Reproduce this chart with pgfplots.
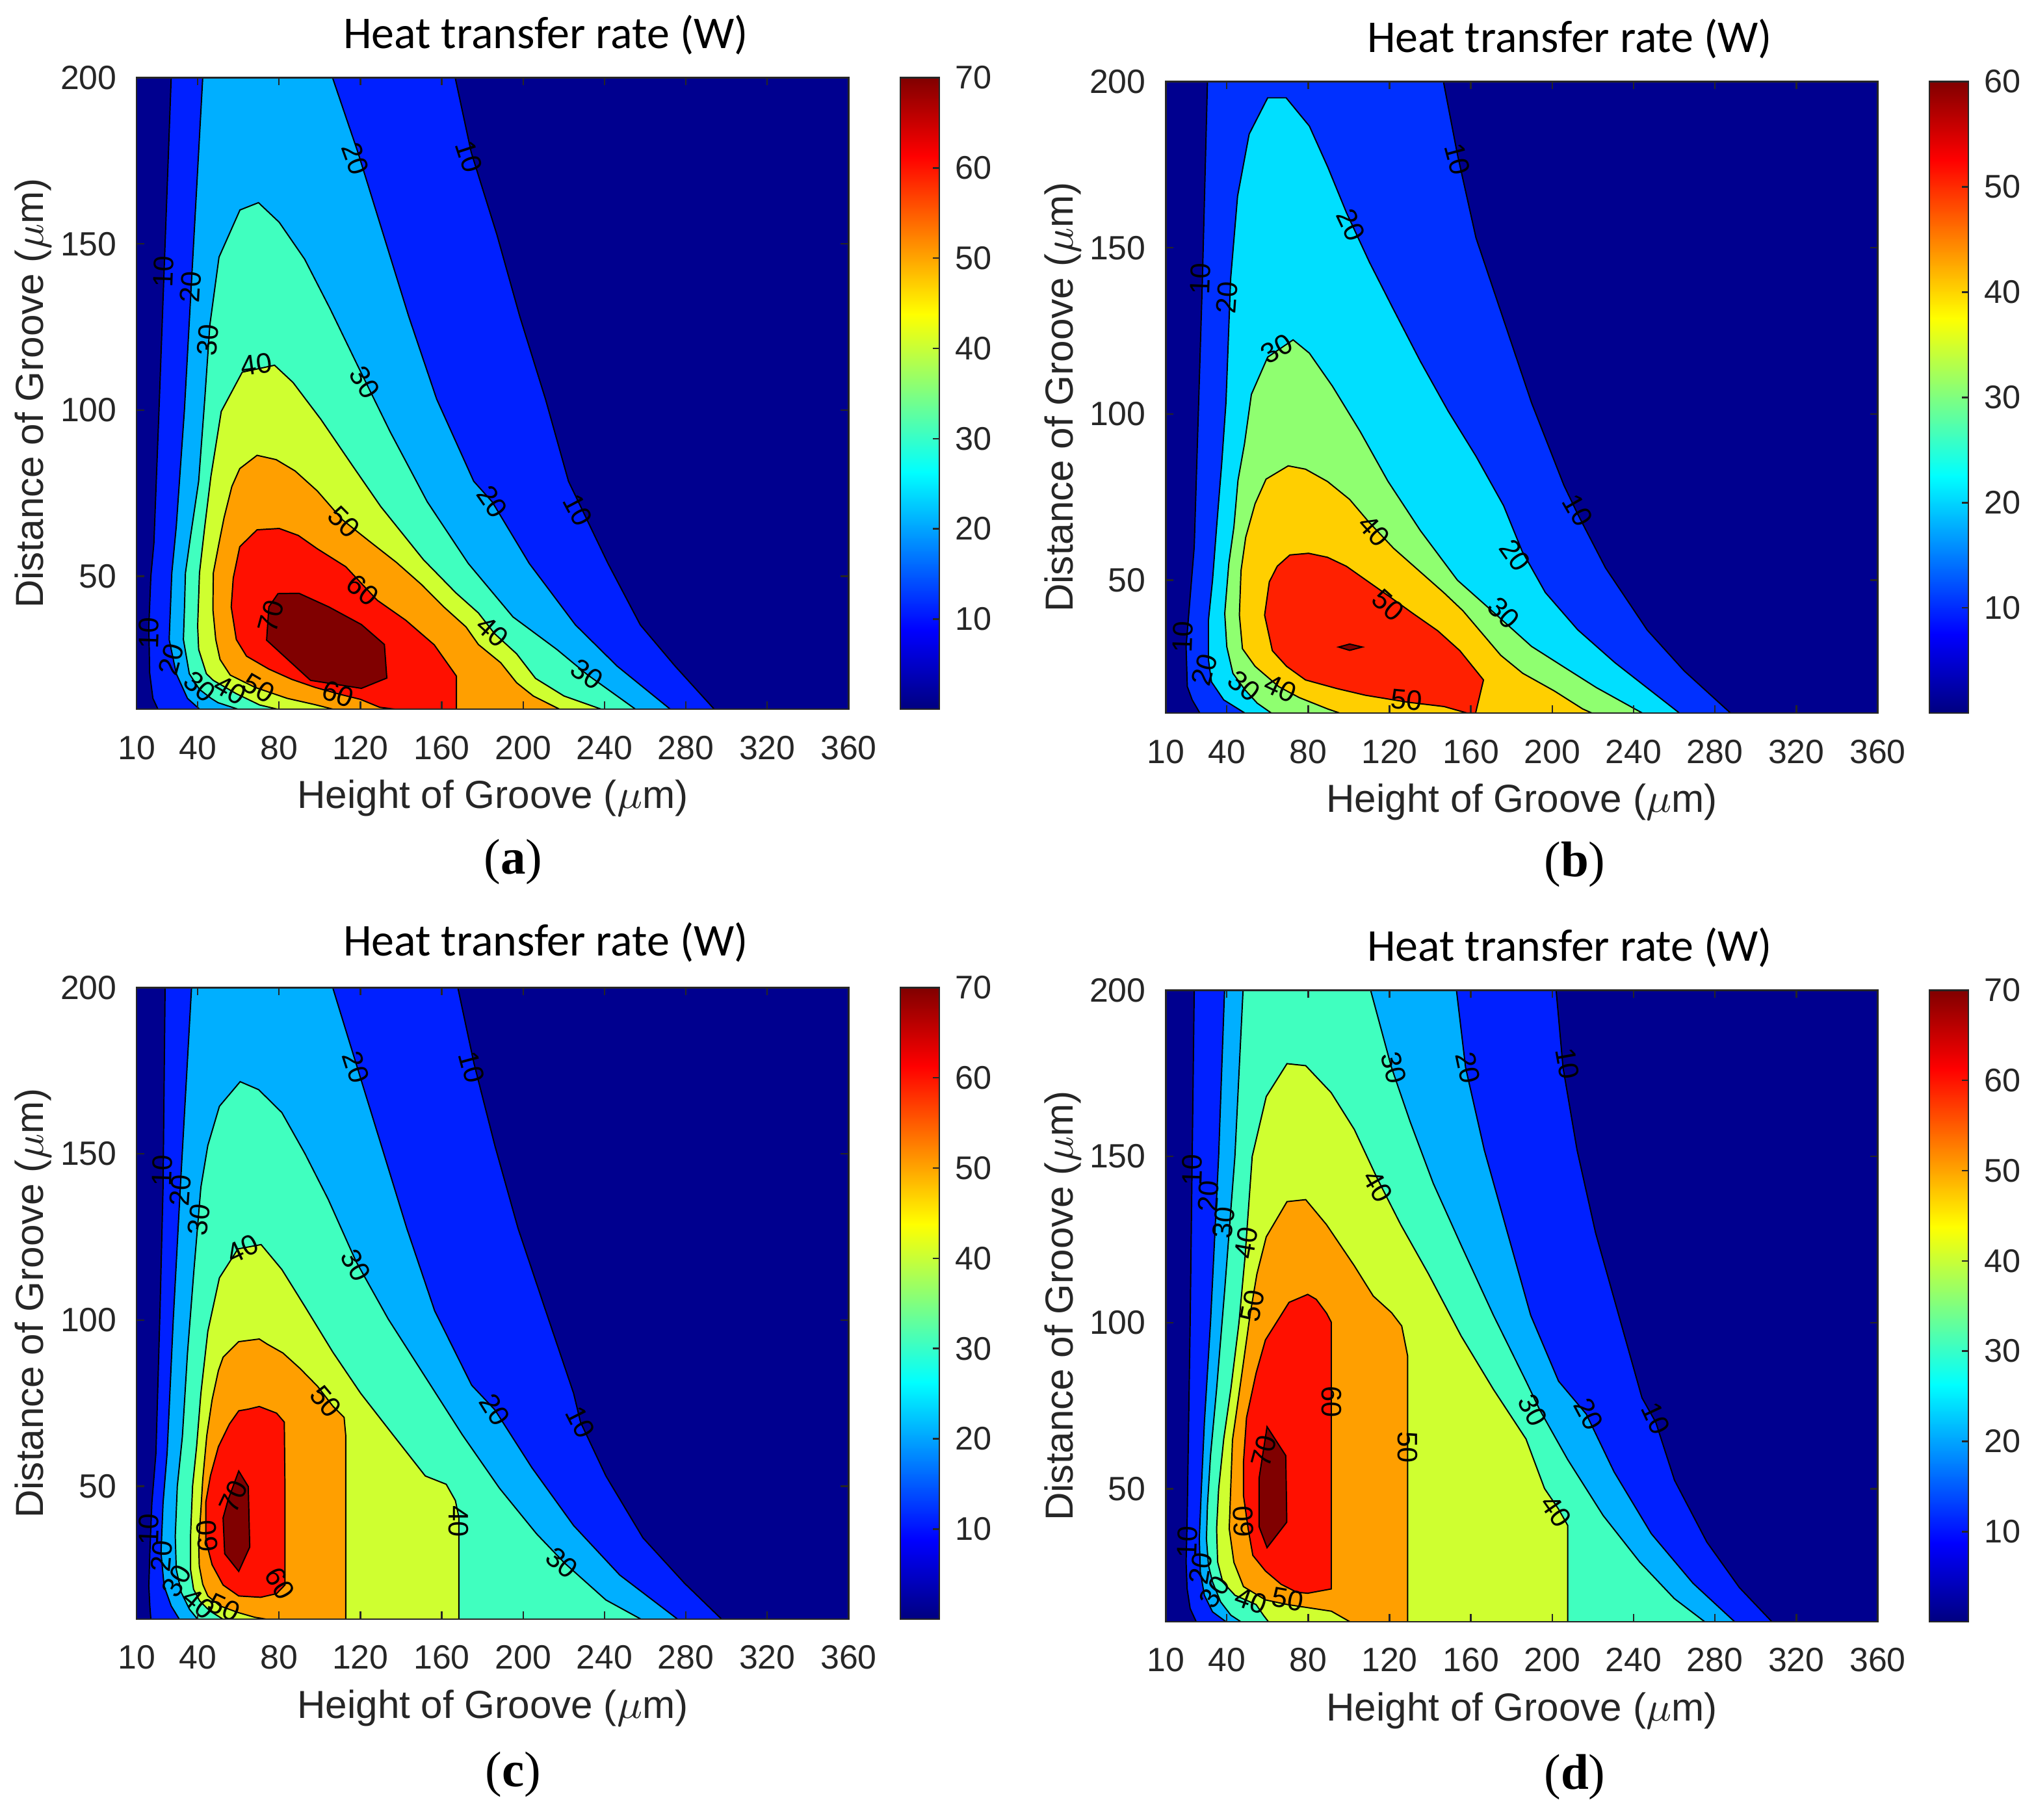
\documentclass[border=0pt]{standalone}
\usepackage{pgfplots}
\pgfplotsset{compat=1.18}
\usepackage{fontspec}
\setmainfont{Liberation Sans}
\newfontfamily\titlefont{Carlito}
\newfontfamily\capfont{Liberation Serif}

\definecolor{axgray}{RGB}{38,38,38}
% band colours, colour axis 0..70 (jet, 64 steps)
\definecolor{s0}{RGB}{0,0,143}
\definecolor{s10}{RGB}{0,32,255}
\definecolor{s20}{RGB}{0,175,255}
\definecolor{s30}{RGB}{64,255,191}
\definecolor{s40}{RGB}{207,255,48}
\definecolor{s50}{RGB}{255,159,0}
\definecolor{s60}{RGB}{255,16,0}
\definecolor{s70}{RGB}{128,0,0}
% band colours, colour axis 0..60
\definecolor{b10}{RGB}{0,48,255}
\definecolor{b20}{RGB}{0,223,255}
\definecolor{b30}{RGB}{143,255,112}
\definecolor{b40}{RGB}{255,207,0}
\definecolor{b50}{RGB}{255,32,0}

\tikzset{
  cl/.style={draw=black, line width=0.28pt},
  lbl/.style={font=\fontsize{6.2}{7}\selectfont, inner sep=0pt},
}
\pgfplotsset{
  panel/.style={
    scale only axis, width=5.5cm, height=4.88cm,
    xmin=10, xmax=360, ymin=10, ymax=200,
    xtick={10,40,80,120,160,200,240,280,320,360},
    ytick={50,100,150,200},
    tick align=inside, major tick length=0.06cm,
    axis line style={axgray, line width=0.35pt},
    every tick/.style={axgray, line width=0.35pt},
    ticklabel style={font=\fontsize{7.4}{8}\selectfont, text=axgray},
    xticklabel style={yshift=-0.08cm},
    yticklabel style={xshift=-0.03cm},
    /pgf/number format/assume math mode=true,
    axis on top,
    axis background/.style={fill=s0},
    xlabel={Height of Groove ($\mu$m)},
    ylabel={Distance of Groove ($\mu$m)},
    label style={font=\fontsize{8.6}{10}\selectfont, text=axgray},
    x label style={at={(axis description cs:0.5,-0.141)}, anchor=center},
    y label style={at={(axis description cs:-0.145,0.5)}, anchor=center},
  },
  cbar/.style={
    scale only axis, width=0.30cm, height=4.88cm,
    xmin=0, xmax=1, ymin=0, ymax=#1,
    point meta min=0, point meta max=#1,
    xtick=\empty, ytick={10,20,...,#1},
    ytick pos=right, yticklabel pos=right,
    tick align=inside, major tick length=0.05cm,
    axis line style={axgray, line width=0.35pt},
    every tick/.style={axgray, line width=0.35pt},
    ticklabel style={font=\fontsize{7.2}{8}\selectfont, text=axgray},
    /pgf/number format/assume math mode=true,
    axis on top, colormap/jet,
  },
}

\begin{document}
\begin{tikzpicture}
\path (0,0) rectangle (15.68cm,-14.03cm);

% ---------------- (a) ----------------
\begin{axis}[panel, at={(1.05cm,-0.57cm)}, anchor=north west]
\addplot[cl, fill=s10] coordinates {(27,200) (24,150) (21,100) (18.5,60) (17,50) (16,35) (16.4,21) (18,13.3) (20.5,10)
  (294,10) (274.7,23) (257.6,35.4) (241.7,53.9) (222.3,78.6) (211,103.3) (198.4,128.1) (187.1,152.8) (174.5,177.5) (166.6,200)} -- cycle;
\addplot[cl, fill=s20] coordinates {(42.5,200) (38,150) (33.5,100) (29.5,65) (27.3,51) (26,31) (29.5,20.7) (35,13.3) (41,10)
  (272.4,10) (246.2,23) (225.7,35.4) (203,53.9) (184.8,72.4) (175.7,78.6) (157.5,103.3) (143.8,128.1) (131.3,152.8) (118.8,177.5) (106.3,200)} -- cycle;
\addplot[cl, fill=s30] coordinates {(60,10) (50,12) (46.6,13.3) (40.9,16) (35.9,20.7) (33,31) (33.5,40) (34,51) (36.5,62) (40.5,78.6) (43.5,103.3) (46,125.6) (50.5,146) (60.8,160.2) (69.9,162.4)
  (80.1,156.5) (92.6,145.4) (105.1,130.5) (118.8,113.2) (134.7,93.4) (152.9,72.4) (173,53.9) (195,37.8) (216.6,28) (231.4,20.5) (255.3,10)} -- cycle;
\addplot[cl, fill=s40] coordinates {(79.5,10) (70.5,11.3) (59,14.7) (47.7,18.7) (44.3,20.7) (40.5,28) (40,35) (40.9,51) (43.5,65) (46.5,80) (51.6,99.6) (61.9,111.4) (77.8,113.5)
  (86.9,108.3) (100.6,97.2) (116,83.4) (130,71) (151,55) (167,45) (178,39) (185.9,32.8) (196.8,26.7) (206.1,19.3) (220.1,14) (238.6,10)} -- cycle;
\addplot[cl, fill=s50] coordinates {(106.8,10) (97.7,11.4) (84,13.3) (68.2,16.6) (56,20.3) (51,25) (48.9,31) (47.5,40) (47.7,51) (50.5,60) (53,67.7) (56.8,77) (60.7,82.4) (69.2,86.4)
  (78.6,85.1) (87.9,81.7) (98.8,75.7) (111.2,67) (123.7,60.9) (137.7,54.2) (150.1,47.5) (161,40.8) (171.9,34.8) (178,29.5) (189,24) (196.8,18) (205,14) (218,10)} -- cycle;
\addplot[cl, fill=s60] coordinates {(137.5,10) (167.2,10) (167.2,20) (156.3,29.4) (142.3,36.8) (128.3,42.8) (112.8,52.9) (98.8,58.3) (89.5,62.3) (80.1,64.4) (69.2,64)
  (60.7,58.9) (57.5,49.5) (56.5,40.8) (59,31) (64,26) (75,22.1) (86.3,19) (97.7,16.6) (110,14.5) (120,13) (129.5,10.6)} -- cycle;
\addplot[cl, fill=s70] coordinates {(79.5,44.8) (89.8,44.9) (104.5,40.8) (120.5,35.5) (131.8,29.5) (133,19.4) (120.5,16.3) (95.5,18.7) (73.9,30.8) (75,40.8)} -- cycle;
\node[lbl, rotate=-72] at (axis cs:173.4,176.3) {10};
\node[lbl, rotate=-70] at (axis cs:117.6,175.6) {20};
\node[lbl, rotate=88] at (axis cs:23.2,141.7) {10};
\node[lbl, rotate=87] at (axis cs:36.5,137) {20};
\node[lbl, rotate=85] at (axis cs:45,121) {30};
\node[lbl, rotate=8] at (axis cs:69,113.8) {40};
\node[lbl, rotate=-58] at (axis cs:122.2,108.3) {30};
\node[lbl, rotate=-55] at (axis cs:184.8,72.4) {20};
\node[lbl, rotate=-62] at (axis cs:226.9,70) {10};
\node[lbl, rotate=-45] at (axis cs:112,66.3) {50};
\node[lbl, rotate=-40] at (axis cs:121.1,45.9) {60};
\node[lbl, rotate=75] at (axis cs:76,38) {70};
\node[lbl, rotate=-42] at (axis cs:184.8,33.5) {40};
\node[lbl, rotate=-35] at (axis cs:231.4,20.5) {30};
\node[lbl, rotate=-20] at (axis cs:109,14.6) {60};
\node[lbl, rotate=-30] at (axis cs:70,16.3) {50};
\node[lbl, rotate=-30] at (axis cs:56,15.8) {40};
\node[lbl, rotate=-40] at (axis cs:41,16.8) {30};
\node[lbl, rotate=88] at (axis cs:16,33) {10};
\node[lbl, rotate=75] at (axis cs:27,25) {20};
\end{axis}
\begin{axis}[cbar=70, at={(6.95cm,-0.57cm)}, anchor=north west]
\addplot[surf, shader=interp, point meta=y, mesh/cols=2] coordinates {(0,0) (1,0) (0,70) (1,70)};
\end{axis}
\node[font=\titlefont\fontsize{10}{12}\selectfont] at (4.21cm,-0.24cm) {Heat transfer rate (W)};
\node[font=\capfont\fontsize{11}{13}\selectfont] at (3.96cm,-6.63cm) {(\textbf{a})};

% ---------------- (b) ----------------
\begin{axis}[panel, at={(9.00cm,-0.60cm)}, anchor=north west]
\addplot[cl, fill=b10] coordinates {(30.5,200) (28,140) (26,100) (24,60) (22,45) (20,30) (20.6,18) (23,14) (26.8,10)
  (287.7,10) (264.9,22.7) (246.7,35) (226.2,53.7) (212.5,69.9) (205.7,78.6) (189.8,103.4) (176.1,128.3) (162.5,153) (153.4,178) (146.5,200)} -- cycle;
\addplot[cl, fill=b20] coordinates {(49,10) (38.5,14) (32.5,19.4) (31,26) (31,38) (33,50) (35,66) (37.5,85) (39.6,103.4) (41.9,140.7) (45.3,165.5) (51,184.2) (60.1,195.1)
  (69.2,195.1) (80.6,186.6) (89.7,174.2) (98.8,160.6) (110.1,145.7) (121.5,132) (135.2,115.8) (148.8,100.9) (162.5,87.3) (176.1,72.4) (185.2,58.7) (196.6,46.3) (212.5,35.1) (230.8,25.2) (249,16.5) (262.6,10)} -- cycle;
\addplot[cl, fill=b30] coordinates {(62,10) (55,13) (49,17) (43,22) (40,30) (39,40) (41,55) (43.5,66) (45.5,80) (48.7,91) (52.1,105.9) (60.1,117.1) (72.6,122.3)
  (80.6,118.3) (91.9,108.4) (105.6,94.7) (119.2,79.8) (135.2,64.9) (153.4,50) (171.6,40.1) (189.8,30.1) (205.7,23.9) (221.7,17.7) (244.4,10)} -- cycle;
\addplot[cl, fill=b40] coordinates {(95.7,10) (89.5,11.3) (75.6,14.7) (65.5,18) (61.7,20) (53.9,24.1) (47.7,29.4) (46.2,39.5) (47,52.9) (49.3,62.9) (53.9,73) (59.3,80.4) (70.2,84.4)
  (78.7,83.4) (89.5,79.7) (100.4,74.3) (109.7,67.6) (122,59.6) (134.4,52.9) (146.8,46.2) (156.1,40.8) (165.4,34.1) (174.7,27.4) (185.5,22) (201,16.7) (214.9,11.3) (219.6,10)} -- cycle;
\addplot[cl, fill=b50] coordinates {(71,57.6) (64.8,54.2) (60.9,49.5) (58.6,39.5) (62.4,28.8) (69.4,24.1) (78.7,20) (94.2,17.4) (108.1,15.4) (129,13.3) (146.8,12) (158.4,10)
  (162.3,10) (166.2,20) (154.6,28.8) (143.7,34.8) (131.3,40.1) (122,44.2) (109.7,49.5) (98.8,54.2) (89.5,56.9) (80.2,58.1)} -- cycle;
\addplot[cl, fill=s70] coordinates {(95,29.9) (100.4,30.8) (106.6,29.9) (100.4,28.9)} -- cycle;
\node[lbl, rotate=-75] at (axis cs:153.4,176.7) {10};
\node[lbl, rotate=-65] at (axis cs:101,156.8) {20};
\node[lbl, rotate=88] at (axis cs:27.1,140.7) {10};
\node[lbl, rotate=86] at (axis cs:40,135) {20};
\node[lbl, rotate=30] at (axis cs:64.6,119.6) {30};
\node[lbl, rotate=-48] at (axis cs:112.4,64.9) {40};
\node[lbl, rotate=-42] at (axis cs:119.2,42.5) {50};
\node[lbl, rotate=-60] at (axis cs:212.5,71.1) {10};
\node[lbl, rotate=-55] at (axis cs:181.8,57.5) {20};
\node[lbl, rotate=-45] at (axis cs:176.1,40.1) {30};
\node[lbl, rotate=-40] at (axis cs:48.5,18.2) {30};
\node[lbl, rotate=-25] at (axis cs:66.5,17.5) {40};
\node[lbl, rotate=-5] at (axis cs:128.3,14) {50};
\node[lbl, rotate=88] at (axis cs:18.5,33) {10};
\node[lbl, rotate=75] at (axis cs:29,23) {20};
\end{axis}
\begin{axis}[cbar=60, at={(14.90cm,-0.60cm)}, anchor=north west]
\addplot[surf, shader=interp, point meta=y, mesh/cols=2] coordinates {(0,0) (1,0) (0,60) (1,60)};
\end{axis}
\node[font=\titlefont\fontsize{10}{12}\selectfont] at (12.12cm,-0.27cm) {Heat transfer rate (W)};
\node[font=\capfont\fontsize{11}{13}\selectfont] at (12.16cm,-6.65cm) {(\textbf{b})};

% ---------------- (c) ----------------
\begin{axis}[panel, at={(1.05cm,-7.60cm)}, anchor=north west]
\addplot[cl, fill=s10] coordinates {(24,200) (23,140) (21.5,103) (19.5,60) (17.5,45) (16.5,30) (16,20) (16.5,14) (17,10)
  (297.6,10) (279.4,20.8) (258.9,34.5) (240.7,53.1) (228.2,69.3) (224.8,78) (211.1,102.8) (197.5,127.6) (186.1,152.5) (175.8,177.3) (167.9,200)} -- cycle;
\addplot[cl, fill=s20] coordinates {(37,200) (31.5,140) (28,100) (25,60) (23,45) (22,30) (23.5,20) (27,14) (31,10)
  (276,10) (247.5,23.3) (224.8,38.2) (204.3,55.6) (186.1,73) (174.7,80.4) (156.5,102.8) (142.8,127.6) (130.3,152.5) (117.8,177.3) (106.4,200)} -- cycle;
\addplot[cl, fill=s30] coordinates {(40,10) (36,13) (32,18) (29.5,25) (29,35) (30,50) (32.5,65) (35,90) (38.2,115.2) (41.6,140) (45,152.5) (50.7,164.3) (60.9,171.7)
  (70,169.3) (81.4,162.4) (92.8,150) (104.2,136.3) (117.8,117.7) (133.7,100.3) (151.9,82.9) (170.1,65.5) (188.4,49.4) (206.6,35.7) (220.2,27) (240.7,15.8) (258,10)} -- cycle;
\addplot[cl, fill=s40] coordinates {(52.5,10) (46,12.5) (41,15.5) (38,19) (36.5,25) (36.5,35) (37.5,50) (39.5,62) (41.6,78) (45,96.6) (50.7,112.7) (59.8,121.4) (71.2,122.7)
  (81.4,115.2) (92.8,104) (106.4,90.4) (120.1,78) (136,65.5) (151.9,53.1) (162.2,50.6) (166.7,45.7) (168.4,40.7) (168.4,10)} -- cycle;
\addplot[cl, fill=s50] coordinates {(74,10) (68,10.6) (60,12) (51,14) (45,17) (42.5,20.5) (40.8,26) (40.5,33) (41.5,42) (42.5,52) (44.5,65.3) (47.1,76) (50.2,84.8) (52.5,88.8) (60.2,93.5)
  (70.3,94.3) (74.1,92.8) (81.9,90.1) (90.4,85.4) (98.9,80.1) (106.6,74) (112,70.7) (112.8,65.3) (112.8,10)} -- cycle;
\addplot[cl, fill=s60] coordinates {(64.9,73.2) (70.3,74) (78.8,72) (82.6,69.3) (82.9,51.9) (82.9,20.3) (78.8,17.7) (71,16.6) (60.2,17) (52.5,20.3) (47.1,26.4) (44,33.8)
  (44,45.2) (46.3,53.2) (50.2,61.9) (55.6,68.7) (60.2,72.7)} -- cycle;
\addplot[cl, fill=s70] coordinates {(60.2,54.6) (64.9,49.9) (65.6,31.7) (60.2,24.4) (53.3,29.7) (52.5,40.5) (55,46)} -- cycle;
\node[lbl, rotate=-72] at (axis cs:117.8,176.1) {20};
\node[lbl, rotate=-75] at (axis cs:174.7,176.1) {10};
\node[lbl, rotate=88] at (axis cs:22.6,145) {10};
\node[lbl, rotate=86] at (axis cs:31.4,139) {20};
\node[lbl, rotate=82] at (axis cs:40.5,130.1) {30};
\node[lbl, rotate=25] at (axis cs:62,121.4) {40};
\node[lbl, rotate=-62] at (axis cs:117.8,116.5) {30};
\node[lbl, rotate=-50] at (axis cs:103,75.5) {50};
\node[lbl, rotate=-58] at (axis cs:186.1,73) {20};
\node[lbl, rotate=-63] at (axis cs:228.2,69.3) {10};
\node[lbl, rotate=65] at (axis cs:57.5,46.9) {70};
\node[lbl, rotate=-90] at (axis cs:168.4,39.4) {40};
\node[lbl, rotate=-40] at (axis cs:219.1,27) {30};
\node[lbl, rotate=-60] at (axis cs:80.3,20.8) {60};
\node[lbl, rotate=95] at (axis cs:44.5,35) {60};
\node[lbl, rotate=-25] at (axis cs:53,13.6) {50};
\node[lbl, rotate=-40] at (axis cs:40.5,14.8) {40};
\node[lbl, rotate=60] at (axis cs:29.5,21.5) {30};
\node[lbl, rotate=85] at (axis cs:22.2,29) {20};
\node[lbl, rotate=88] at (axis cs:16,37) {10};
\end{axis}
\begin{axis}[cbar=70, at={(6.95cm,-7.60cm)}, anchor=north west]
\addplot[surf, shader=interp, point meta=y, mesh/cols=2] coordinates {(0,0) (1,0) (0,70) (1,70)};
\end{axis}
\node[font=\titlefont\fontsize{10}{12}\selectfont] at (4.21cm,-7.25cm) {Heat transfer rate (W)};
\node[font=\capfont\fontsize{11}{13}\selectfont] at (3.96cm,-13.68cm) {(\textbf{c})};

% ---------------- (d) ----------------
\begin{axis}[panel, at={(9.00cm,-7.62cm)}, anchor=north west]
\addplot[cl, fill=s10] coordinates {(24,200) (23,150) (22,100) (21,60) (20.5,40) (20,28) (20.5,20) (22,14) (25,10)
  (308,10) (292,20.3) (276,34) (260.1,52.6) (250.9,70) (244.1,77.4) (232.7,102.2) (221.3,127) (212.2,151.9) (205.3,176.7) (201.9,200)} -- cycle;
\addplot[cl, fill=s20] coordinates {(38.9,200) (36,150) (32,100) (29,70) (27.5,50) (26.5,35) (27,25) (29,18) (33,13) (39.7,10)
  (289.7,10) (269.2,21.6) (248.7,36.5) (230.4,55.1) (216.7,72.5) (203.1,82.4) (189.4,102.2) (178,127) (166.6,151.9) (157.4,176.7) (152.9,200)} -- cycle;
\addplot[cl, fill=s30] coordinates {(48,200) (44,150) (39,110) (35,80) (32,60) (30.5,45) (30,35) (31,27) (33,22) (37,16) (42,12) (47,10)
  (275,10) (260,17) (243,28) (225,42) (207.6,58.8) (193.9,73.7) (187.1,82.4) (171.1,102.2) (155.2,123.3) (141.5,141.9) (130.1,160.5) (121,176.7) (110.7,200)} -- cycle;
\addplot[cl, fill=s40] coordinates {(60.5,10) (58,12) (54.4,15.2) (44,18) (38,22) (35.5,28) (35,38) (36,50) (38.5,65) (42,80) (46,100) (49,120) (52.5,150) (59.4,168) (69.6,177.9)
  (78.8,177.3) (91.3,169.2) (102.7,158.1) (114.1,143.2) (125.5,129.5) (139.2,114.6) (155.2,96) (171.1,79.9) (187.1,65) (196.2,50.1) (203.1,43.9) (207.6,39) (207.6,10)} -- cycle;
\addplot[cl, fill=s50] coordinates {(100.6,10) (91.4,13.2) (80.6,14.2) (69.8,15.2) (59,16.6) (48.2,20.6) (43.5,27.9) (41.2,38) (42,51.3) (42.8,64.7) (44.5,72) (47.5,85) (51.4,102.2) (54.8,114.6) (59.4,125.8) (69.6,136.4)
  (78.8,137) (89,129.5) (102.7,117.1) (112,108) (121,103) (126,99) (128.9,90) (128.9,10)} -- cycle;
\addplot[cl, fill=s60] coordinates {(79.8,108.5) (70.6,106.1) (65.9,101.5) (59,94.8) (54.4,84.8) (49.7,71.4) (48.2,58) (48.2,48) (50.5,38) (52.8,30) (59,25.3) (66.7,21.3)
  (74.4,18.9) (79.8,18.6) (91.4,19.9) (91.4,100.1) (89.1,102.8) (84,107)} -- cycle;
\addplot[cl, fill=s70] coordinates {(59.8,68.7) (69,60) (69.5,40) (59.8,32.3) (55.9,38.6) (55.9,53.3)} -- cycle;
\node[lbl, rotate=-80] at (axis cs:207.6,177.9) {10};
\node[lbl, rotate=-78] at (axis cs:158.6,176.7) {20};
\node[lbl, rotate=-75] at (axis cs:122.1,176.7) {30};
\node[lbl, rotate=88] at (axis cs:23,146) {10};
\node[lbl, rotate=86] at (axis cs:31,138) {20};
\node[lbl, rotate=84] at (axis cs:38.5,130) {30};
\node[lbl, rotate=80] at (axis cs:49.5,124) {40};
\node[lbl, rotate=80] at (axis cs:52.5,105) {50};
\node[lbl, rotate=-60] at (axis cs:114.1,141) {40};
\node[lbl, rotate=-90] at (axis cs:91.4,76.2) {60};
\node[lbl, rotate=-90] at (axis cs:128.9,62.5) {50};
\node[lbl, rotate=75] at (axis cs:58.2,61.3) {70};
\node[lbl, rotate=92] at (axis cs:48.2,40.2) {60};
\node[lbl, rotate=-62] at (axis cs:190.5,73.7) {30};
\node[lbl, rotate=-62] at (axis cs:217.9,72.5) {20};
\node[lbl, rotate=-65] at (axis cs:250.9,71.2) {10};
\node[lbl, rotate=-55] at (axis cs:201.9,43.3) {40};
\node[lbl, rotate=88] at (axis cs:20.5,34) {10};
\node[lbl, rotate=80] at (axis cs:27,26) {20};
\node[lbl, rotate=55] at (axis cs:34,19) {30};
\node[lbl, rotate=-20] at (axis cs:52,16.4) {40};
\node[lbl, rotate=-10] at (axis cs:70,16.8) {50};
\end{axis}
\begin{axis}[cbar=70, at={(14.90cm,-7.62cm)}, anchor=north west]
\addplot[surf, shader=interp, point meta=y, mesh/cols=2] coordinates {(0,0) (1,0) (0,70) (1,70)};
\end{axis}
\node[font=\titlefont\fontsize{10}{12}\selectfont] at (12.12cm,-7.29cm) {Heat transfer rate (W)};
\node[font=\capfont\fontsize{11}{13}\selectfont] at (12.16cm,-13.70cm) {(\textbf{d})};
\end{tikzpicture}
\end{document}
